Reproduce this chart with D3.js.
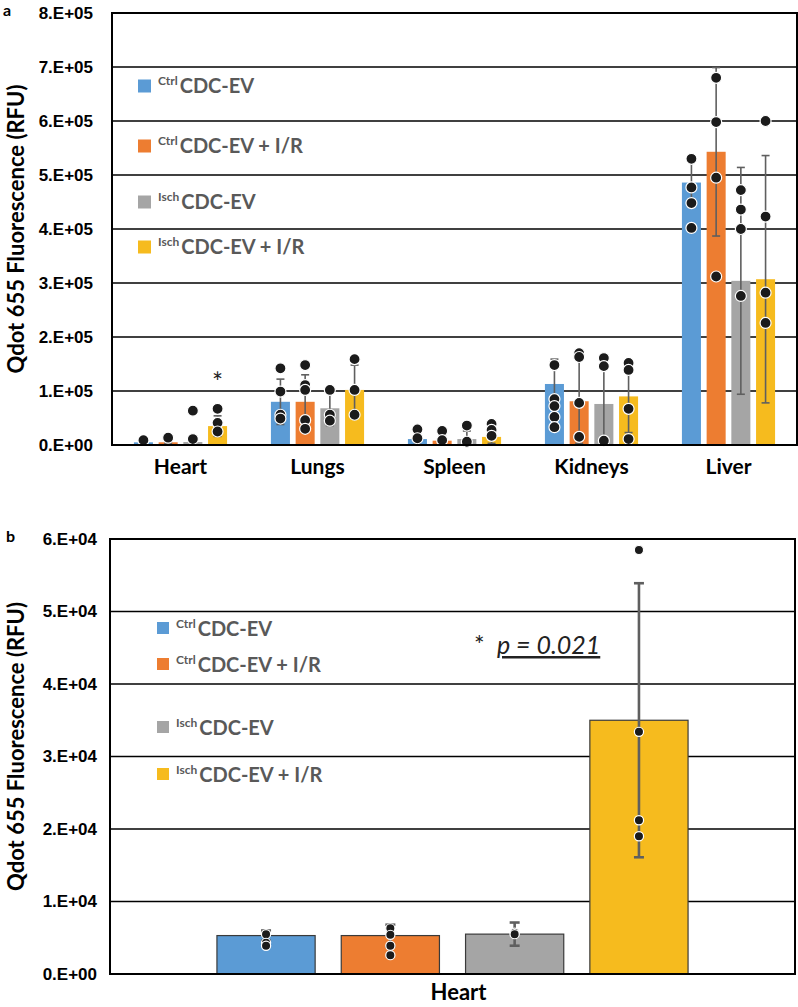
<!DOCTYPE html>
<html lang="en">
<head>
  <meta charset="UTF-8">
  <title>Qdot 655 Fluorescence</title>
  <style>
    body { margin: 0; background: #fff; }
    svg { display: block; font-family: Lato, "Open Sans", Arial, sans-serif; }
    .tick-label { font-size: 17px; font-weight: bold; fill: #000; }
    .cat-label { font-size: 21px; font-weight: bold; fill: #000; }
    .y-title { font-size: 22px; font-weight: bold; fill: #000; }
    .legend-text { font-weight: bold; fill: #595959; }
    .panel-label { font-size: 16px; font-weight: bold; fill: #000; }
  </style>
</head>
<body>
  <svg id="chart" width="798" height="1007"></svg>

  <script src="https://d3js.org/d3.v7.min.js"></script>
  <script>
    // ---- data ----
    const organs = ["Heart", "Lungs", "Spleen", "Kidneys", "Liver"];
    const groupSup = ["Ctrl", "Ctrl", "Isch", "Isch"];
    const groupNames = ["CDC-EV", "CDC-EV + I/R", "CDC-EV", "CDC-EV + I/R"];
    const colors = ["#5B9BD5", "#ED7D31", "#A5A5A5", "#F6BB1E"];

    // panel a: mean per group, one value per organ
    const meanCtrl = [5000, 80000, 11000, 113000, 486000];
    const meanCtrlIR = [5000, 80000, 8000, 81000, 543000];
    const meanIsch = [5500, 68000, 11000, 76000, 304000];
    const meanIschIR = [35000, 102000, 15000, 90000, 307000];

    const sdCtrl = [1000, 42000, 10000, 46000, 45000];
    const sdCtrlIR = [1500, 50000, 10000, 78000, 156000];
    const sdIsch = [1600, 32000, 15000, 78000, 210000];
    const sdIschIR = [19000, 46000, 12000, 67000, 229000];

    // individual animals, per organ
    const dotsCtrl = [[9000], [142000, 99000, 56000, 49000], [29000, 12500],
      [148000, 85000, 72000, 52000, 33000], [530000, 477000, 448000, 402000]];
    const dotsCtrlIR = [[13500], [148000, 111000, 102000, 46000, 30000], [26000, 9000],
      [170000, 163000, 78000, 15000], [680000, 598000, 495000, 312000]];
    const dotsIsch = [[63500, 11000], [102000, 56000, 45000], [36000, 6000],
      [161000, 146000, 8000], [472000, 436000, 400000, 276000]];
    const dotsIschIR = [[67000, 41000, 25000], [159000, 102000, 56000], [39000, 28000, 17000],
      [152000, 139000, 67000, 11000], [600000, 423000, 282000, 226000]];

    const ticksA = [0, 100000, 200000, 300000, 400000, 500000, 600000, 700000, 800000];
    const tickLabelsA = ["0.E+00", "1.E+05", "2.E+05", "3.E+05", "4.E+05", "5.E+05", "6.E+05", "7.E+05", "8.E+05"];

    // panel b: heart only
    const heartMean = [5300, 5300, 5500, 35000];
    const heartSd = [700, 1500, 1600, 18900];
    const heartDots = [[5500, 4300, 3900], [6300, 5400, 3900, 2600], [5700, 5500], [58500, 33400, 21200, 19000]];

    const ticksB = [0, 10000, 20000, 30000, 40000, 50000, 60000];
    const tickLabelsB = ["0.E+00", "1.E+04", "2.E+04", "3.E+04", "4.E+04", "5.E+04", "6.E+04"];

    const svg = d3.select("#chart");

    // draws one bar panel
    function drawPanel(o) {
      const g = svg.append("g");
      const x0 = d3.scaleBand().domain(o.categories).range([o.left, o.right])
        .paddingInner(o.padInner).paddingOuter(o.padOuter);
      const x1 = d3.scaleBand().domain(d3.range(4)).range([0, x0.bandwidth()]).paddingInner(o.barPad);
      const y = d3.scaleLinear().domain([0, o.yMax]).range([o.bottom, o.top]);

      // gridlines + tick labels
      g.selectAll(".grid").data(o.ticks.slice(1)).join("line")
        .attr("x1", o.left).attr("x2", o.right)
        .attr("y1", d => y(d)).attr("y2", d => y(d))
        .attr("stroke", "#000").attr("stroke-width", 1.5);

      const yAxis = d3.axisLeft(y).tickValues(o.ticks)
        .tickFormat((d, i) => o.tickLabels[i]).tickSize(0).tickPadding(o.labelGap);
      const ag = g.append("g").attr("transform", `translate(${o.left},0)`).call(yAxis);
      ag.select(".domain").remove();
      ag.selectAll("text").attr("class", "tick-label").attr("fill", null)
        .style("font-family", null);

      const rows = [];
      o.categories.forEach((c, ci) => {
        o.means.forEach((m, gi) => {
          rows.push({ cat: c, gi, mean: m[ci], sd: o.sds[gi][ci], dots: o.dots[gi][ci] });
        });
      });
      const cx = d => x0(d.cat) + x1(d.gi) + x1.bandwidth() / 2;

      g.selectAll(".bar").data(rows).join("rect")
        .attr("x", d => x0(d.cat) + x1(d.gi))
        .attr("width", x1.bandwidth())
        .attr("y", d => y(d.mean))
        .attr("height", d => y(0) - y(d.mean))
        .attr("fill", d => colors[d.gi])
        .attr("stroke", o.barStroke || "none")
        .attr("stroke-width", 1.2);

      // error bars
      const eb = g.selectAll(".err").data(rows).join("g").attr("stroke", "#5f5f5f")
        .attr("stroke-width", o.errWidth);
      eb.append("line")
        .attr("x1", cx).attr("x2", cx)
        .attr("y1", d => y(Math.max(0, d.mean - d.sd)))
        .attr("y2", d => y(d.mean + d.sd));
      eb.append("line")
        .attr("x1", d => cx(d) - o.cap).attr("x2", d => cx(d) + o.cap)
        .attr("y1", d => y(d.mean + d.sd)).attr("y2", d => y(d.mean + d.sd));
      eb.filter(d => d.mean - d.sd > 0).append("line")
        .attr("x1", d => cx(d) - o.cap).attr("x2", d => cx(d) + o.cap)
        .attr("y1", d => y(d.mean - d.sd)).attr("y2", d => y(d.mean - d.sd));

      // individual points
      const pts = rows.flatMap(d => d.dots.map(v => ({ x: cx(d), v })));
      g.selectAll(".dot").data(pts).join("circle")
        .attr("cx", d => d.x).attr("cy", d => y(d.v)).attr("r", o.dotR)
        .attr("fill", "#1b1b1b").attr("stroke", "#fff").attr("stroke-width", 1.2);

      // frame
      g.append("rect")
        .attr("x", o.left).attr("y", o.top)
        .attr("width", o.right - o.left).attr("height", o.bottom - o.top)
        .attr("fill", "none").attr("stroke", "#000").attr("stroke-width", 2);

      // category labels
      g.selectAll(".cat").data(o.categories).join("text")
        .attr("class", "cat-label")
        .attr("x", d => x0(d) + x0.bandwidth() / 2 + o.catShift)
        .attr("y", o.catY)
        .attr("text-anchor", "middle")
        .style("font-size", o.catSize + "px")
        .text(d => d);

      // y title
      g.append("text").attr("class", "y-title")
        .attr("transform", `translate(24,${(o.top + o.bottom) / 2 + o.titleShift}) rotate(-90)`)
        .attr("text-anchor", "middle")
        .text("Qdot 655 Fluorescence (RFU)");

      // legend
      const lg = g.selectAll(".leg").data(groupNames).join("g")
        .attr("transform", (d, i) => `translate(${o.legX},${o.legY[i]})`);
      lg.append("rect")
        .attr("x", 0).attr("y", -o.legBox / 2)
        .attr("width", o.legBox).attr("height", o.legBox)
        .attr("fill", (d, i) => colors[i]);
      const lt = lg.append("text").attr("class", "legend-text")
        .attr("x", o.legBox + 7).attr("y", o.legBaseline);
      lt.append("tspan").style("font-size", "12px").attr("dy", -8)
        .text((d, i) => groupSup[i]);
      lt.append("tspan").style("font-size", "20px").attr("dy", 8).attr("dx", 2)
        .text(d => d);

      return { x0, x1, y, g };
    }

    const pa = drawPanel({
      categories: organs,
      means: [meanCtrl, meanCtrlIR, meanIsch, meanIschIR],
      sds: [sdCtrl, sdCtrlIR, sdIsch, sdIschIR],
      dots: [dotsCtrl, dotsCtrlIR, dotsIsch, dotsIschIR],
      ticks: ticksA, tickLabels: tickLabelsA, yMax: 800000,
      left: 112, right: 797, top: 13, bottom: 445,
      padInner: 0.32, padOuter: 0.16, barPad: 0.23,
      labelGap: 19, dotR: 5.5, errWidth: 1.6, cap: 4,
      catY: 474, catSize: 21, catShift: 0, titleShift: 0,
      legX: 138, legY: [86, 146, 202, 247], legBox: 13, legBaseline: 7
    });

    const pb = drawPanel({
      categories: ["Heart"],
      means: heartMean.map(v => [v]),
      sds: heartSd.map(v => [v]),
      dots: heartDots.map(v => [v]),
      ticks: ticksB, tickLabels: tickLabelsB, yMax: 60000,
      left: 110, right: 795, top: 539, bottom: 974,
      padInner: 0, padOuter: 0.227, barPad: 0.21,
      labelGap: 13, dotR: 4.6, errWidth: 2.6, cap: 5,
      barStroke: "#3a3a3a",
      catY: 1000, catSize: 22, catShift: 6, titleShift: -10,
      legX: 157, legY: [628, 664, 727, 774], legBox: 12, legBaseline: 8
    });

    // significance marks
    pa.g.append("text")
      .attr("x", pa.x0("Heart") + pa.x1(3) + pa.x1.bandwidth() / 2)
      .attr("y", 392)
      .attr("text-anchor", "middle")
      .style("font-size", "26px").attr("fill", "#222")
      .text("*");

    const sig = pb.g.append("text").attr("y", 654).style("font-size", "25px").attr("fill", "#222");
    sig.append("tspan").attr("x", 474).text("*");
    sig.append("tspan").attr("x", 497).style("font-style", "italic")
      .style("text-decoration", "underline").text("p = 0.021");

    // panel letters
    svg.append("text").attr("class", "panel-label").attr("x", 3).attr("y", 16).text("a");
    svg.append("text").attr("class", "panel-label").attr("x", 6).attr("y", 542).text("b");
  </script>
</body>
</html>
